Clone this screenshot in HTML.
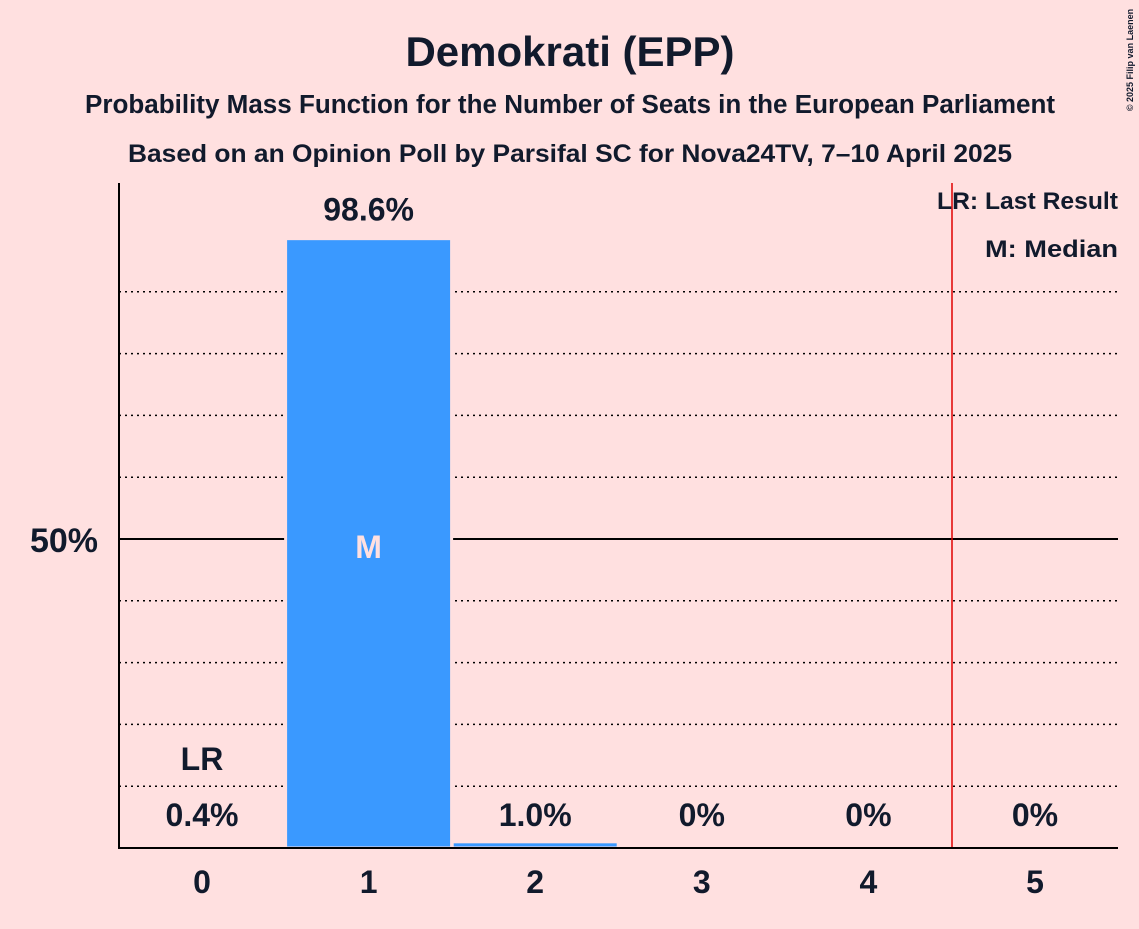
<!DOCTYPE html>
<html><head><meta charset="utf-8"><style>
body{margin:0;background:#ffe0e0;}
svg text{font-family:"Liberation Sans",sans-serif;font-weight:bold;fill:#111a2c;}
</style></head><body>
<svg width="1139" height="924" viewBox="0 0 1139 924">
<rect width="1139" height="924" fill="#ffe0e0"/>
<text x="570" y="66" font-size="42" text-anchor="middle">Demokrati (EPP)</text>
<text x="570" y="113" font-size="25.5" text-anchor="middle" textLength="970" lengthAdjust="spacingAndGlyphs">Probability Mass Function for the Number of Seats in the European Parliament</text>
<text x="570" y="162" font-size="25" text-anchor="middle" textLength="884" lengthAdjust="spacingAndGlyphs">Based on an Opinion Poll by Parsifal SC for Nova24TV, 7–10 April 2025</text>
<text x="1133" y="60" font-size="9" font-weight="normal" transform="rotate(-90 1133 60)" text-anchor="middle">© 2025 Filip van Laenen</text>
<g id="grid"></g>
<g id="bars"></g>
<line x1="119" y1="183" x2="119" y2="849" stroke="#000" stroke-width="2"/>
<line x1="118" y1="848" x2="1118" y2="848" stroke="#000" stroke-width="2"/>
<text x="98" y="552" font-size="34" text-anchor="end">50%</text>
<text x="1118" y="209" font-size="24" text-anchor="end" textLength="181" lengthAdjust="spacingAndGlyphs">LR: Last Result</text>
<text x="1118" y="257" font-size="24" text-anchor="end" textLength="133" lengthAdjust="spacingAndGlyphs">M: Median</text>
</svg>
<script>
const seats=[0,1,2,3,4,5];
const probs=[0.4,98.6,1.0,0,0,0];
const labels=["0.4%","98.6%","1.0%","0%","0%","0%"];
const lastResult=0, median=1;
const ns="http://www.w3.org/2000/svg";
const x=i=>202+i*166.6;
const y=v=>848-v*6.18;
function mk(t,a,p){const e=document.createElementNS(ns,t);for(const k in a)e.setAttribute(k,a[k]);p.appendChild(e);return e;}
const grid=document.getElementById('grid'),bars=document.getElementById('bars');
for(let g=10;g<=90;g+=10){
 const l=mk('line',{x1:119,x2:1118,y1:y(g),y2:y(g),stroke:'#000','stroke-width':g==50?2:1.5,'stroke-dasharray':g==50?'none':'2,4'},grid);
 
 
}
const lr=mk('line',{x1:952,x2:952,y1:183,y2:848,stroke:'#e00000','stroke-width':1.5},grid);


seats.forEach((s,i)=>{
 const h=848-y(probs[i]);
 const r=mk('rect',{x:x(i)-83,y:y(probs[i]),width:166,height:h,fill:i==0?'#1a3a8a':'#3a99ff',stroke:'#ffe0e0','stroke-width':3},bars);
 
 
 const ly=probs[i]>50?y(probs[i])-18:826;
 const t=mk('text',{x:x(i),y:ly,'font-size':32,'text-anchor':'middle'},bars);t.textContent=labels[i];
 
 
 const xt=mk('text',{x:x(i),y:893,'font-size':32,'text-anchor':'middle'},bars);xt.textContent=s;
 
 
 if(s==lastResult){const a=mk('text',{x:x(i),y:770,'font-size':32,'text-anchor':'middle'},bars);a.textContent='LR';
  
  }
 if(s==median){const m=mk('text',{x:x(i),y:558,'font-size':32,'text-anchor':'middle',style:'fill:#ffe0e0'},bars);m.textContent='M';
  
  }
});
</script>
</body></html>
